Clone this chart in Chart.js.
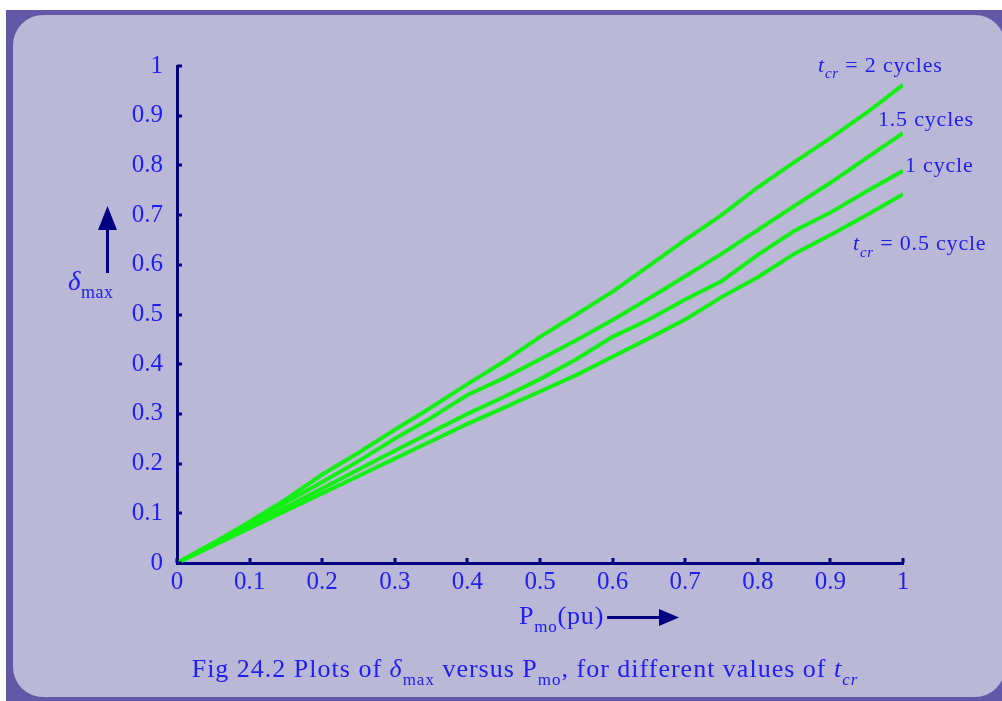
<!DOCTYPE html>
<html>
<head>
<meta charset="utf-8">
<script src="https://cdn.jsdelivr.net/npm/chart.js@4.4.0/dist/chart.umd.min.js"></script>
<style>
  html, body { margin: 0; padding: 0; background: #fff; }
  body { width: 1002px; height: 701px; position: relative; overflow: hidden; }
  .frame { position: absolute; left: 6px; top: 10px; width: 1010px; height: 691px; background: #6357a7; }
  .panel { position: absolute; left: 13px; top: 15px; width: 992px; height: 682px; background: #bbb7d6; border-radius: 30px; }
  #chart { position: absolute; left: 0; top: 0; }
</style>
</head>
<body>
<div class="frame"></div>
<div class="panel"></div>
<canvas id="chart" width="1002" height="701"></canvas>
<script>
// ── DATA ───────────────────────────────────────────────
const pmo    = [0, 0.05, 0.1, 0.15, 0.2, 0.25, 0.3, 0.35, 0.4, 0.45, 0.5,
                0.55, 0.6, 0.65, 0.7, 0.75, 0.8, 0.85, 0.9, 0.95, 1];
const tcr2   = [0, 0.040, 0.083, 0.128, 0.178, 0.222, 0.268, 0.313, 0.360, 0.405, 0.455,
                0.500, 0.546, 0.598, 0.650, 0.700, 0.756, 0.806, 0.855, 0.906, 0.962];
const tcr15  = [0, 0.040, 0.080, 0.122, 0.163, 0.205, 0.250, 0.292, 0.338, 0.372, 0.410,
                0.448, 0.489, 0.532, 0.577, 0.622, 0.670, 0.718, 0.765, 0.815, 0.865];
const tcr1   = [0, 0.037, 0.075, 0.112, 0.150, 0.188, 0.226, 0.263, 0.300, 0.334, 0.370,
                0.410, 0.455, 0.490, 0.530, 0.567, 0.620, 0.668, 0.705, 0.748, 0.789];
const tcr05  = [0, 0.035, 0.070, 0.105, 0.140, 0.175, 0.210, 0.245, 0.280, 0.312, 0.345,
                0.378, 0.415, 0.452, 0.490, 0.535, 0.575, 0.622, 0.660, 0.700, 0.742];
const xTicks = ['0', '0.1', '0.2', '0.3', '0.4', '0.5', '0.6', '0.7', '0.8', '0.9', '1'];
const yTicks = ['0', '0.1', '0.2', '0.3', '0.4', '0.5', '0.6', '0.7', '0.8', '0.9', '1'];
const curveLabels = [
  [{ t: 't', it: true }, { t: 'cr', it: true, sub: true }, { t: ' = 2 cycles' }],
  [{ t: '1.5 cycles' }],
  [{ t: '1 cycle' }],
  [{ t: 't', it: true }, { t: 'cr', it: true, sub: true }, { t: ' = 0.5 cycle' }]
];

const NAVY  = '#000080';
const BLUE  = '#2020ee';
const GREEN = '#12f012';
const SERIF = '"Liberation Serif", "DejaVu Serif", serif';

// ── RICH TEXT HELPER ───────────────────────────────────
function drawRich(ctx, parts, x, y, size, spacing, measureOnly) {
  let cx = x;
  ctx.letterSpacing = (spacing || 0) + 'px';
  parts.forEach(p => {
    const s = p.sub ? Math.round(size * 0.66) : size;
    ctx.font = (p.it ? 'italic ' : '') + s + 'px ' + SERIF;
    if (!measureOnly) ctx.fillText(p.t, cx, y + (p.sub ? size * 0.3 : 0));
    cx += ctx.measureText(p.t).width;
  });
  ctx.letterSpacing = '0px';
  return cx - x;
}

// label offsets from the end of each curve (px)
const labelOffsets = [[-85, -13], [-25, -7], [2, 1], [-50, 56]];

const decor = {
  id: 'decor',
  afterDraw(chart) {
    const { ctx, chartArea: a, scales: { x, y } } = chart;
    ctx.save();

    // inward tick marks
    ctx.strokeStyle = NAVY;
    ctx.lineWidth = 3;
    ctx.beginPath();
    xTicks.forEach(t => {
      const px = Math.round(x.getPixelForValue(parseFloat(t)));
      ctx.moveTo(px, a.bottom);
      ctx.lineTo(px, a.bottom - 5);
    });
    yTicks.forEach(t => {
      const py = Math.round(y.getPixelForValue(parseFloat(t)));
      ctx.moveTo(a.left, py);
      ctx.lineTo(a.left + 5, py);
    });
    ctx.stroke();

    ctx.fillStyle = BLUE;
    ctx.textBaseline = 'alphabetic';
    ctx.textAlign = 'left';

    // curve labels
    chart.data.datasets.forEach((ds, i) => {
      const last = ds.data[ds.data.length - 1];
      const px = x.getPixelForValue(last.x) + labelOffsets[i][0];
      const py = y.getPixelForValue(last.y) + labelOffsets[i][1];
      drawRich(ctx, curveLabels[i], px, py, 22, 0.8);
    });

    // y axis title with arrow
    ctx.fillStyle = NAVY;
    ctx.fillRect(a.left - 71, 226, 3, 47);
    ctx.beginPath();
    ctx.moveTo(a.left - 69.5, 206);
    ctx.lineTo(a.left - 79, 230);
    ctx.lineTo(a.left - 60, 230);
    ctx.closePath();
    ctx.fill();
    ctx.fillStyle = BLUE;
    drawRich(ctx, [{ t: 'δ', it: true }, { t: 'max', sub: true }], a.left - 109, 290, 27, 0.5);

    // x axis title with arrow
    const w = drawRich(ctx, [{ t: 'P' }, { t: 'mo', sub: true }, { t: '(pu)' }], 519, 624, 26, 0.8);
    ctx.fillStyle = NAVY;
    ctx.fillRect(519 + w + 3, 616, 664 - (519 + w + 3), 3);
    ctx.beginPath();
    ctx.moveTo(679, 617.5);
    ctx.lineTo(659, 609);
    ctx.lineTo(659, 626);
    ctx.closePath();
    ctx.fill();

    // caption
    ctx.fillStyle = BLUE;
    const cap = [
      { t: 'Fig 24.2 Plots of ' }, { t: 'δ', it: true }, { t: 'max', sub: true },
      { t: ' versus P' }, { t: 'mo', sub: true }, { t: ', for different values of ' },
      { t: 't', it: true }, { t: 'cr', it: true, sub: true }
    ];
    const cw = drawRich(ctx, cap, 0, 0, 26, 1, true);
    drawRich(ctx, cap, 525 - cw / 2, 677, 26, 1);

    ctx.restore();
  }
};

const series = [tcr2, tcr15, tcr1, tcr05];

new Chart(document.getElementById('chart'), {
  type: 'line',
  data: {
    datasets: series.map(s => ({
      data: pmo.map((v, i) => ({ x: v, y: s[i] })),
      borderColor: GREEN,
      borderWidth: 4,
      pointRadius: 0,
      tension: 0,
      fill: false
    }))
  },
  options: {
    responsive: false,
    devicePixelRatio: 1,
    animation: false,
    layout: { padding: { left: 117, right: 99, top: 66, bottom: 98 } },
    plugins: { legend: { display: false }, tooltip: { enabled: false } },
    scales: {
      x: {
        type: 'linear', min: 0, max: 1,
        afterBuildTicks: s => { s.ticks = xTicks.map(t => ({ value: parseFloat(t) })); },
        afterFit: s => { s.height = 40; },
        grid: { display: false, drawTicks: false },
        border: { display: true, color: NAVY, width: 3 },
        ticks: {
          callback: (v, i) => xTicks[i],
          color: BLUE, padding: 4, maxRotation: 0, autoSkip: false,
          font: { family: SERIF, size: 25 }
        }
      },
      y: {
        type: 'linear', min: 0, max: 1,
        afterBuildTicks: s => { s.ticks = yTicks.map(t => ({ value: parseFloat(t) })); },
        afterFit: s => { s.width = 60; },
        grid: { display: false, drawTicks: false },
        border: { display: true, color: NAVY, width: 3 },
        ticks: {
          callback: (v, i) => yTicks[i],
          color: BLUE, padding: 14, autoSkip: false,
          font: { family: SERIF, size: 25 }
        }
      }
    }
  },
  plugins: [decor]
});
</script>
</body>
</html>
